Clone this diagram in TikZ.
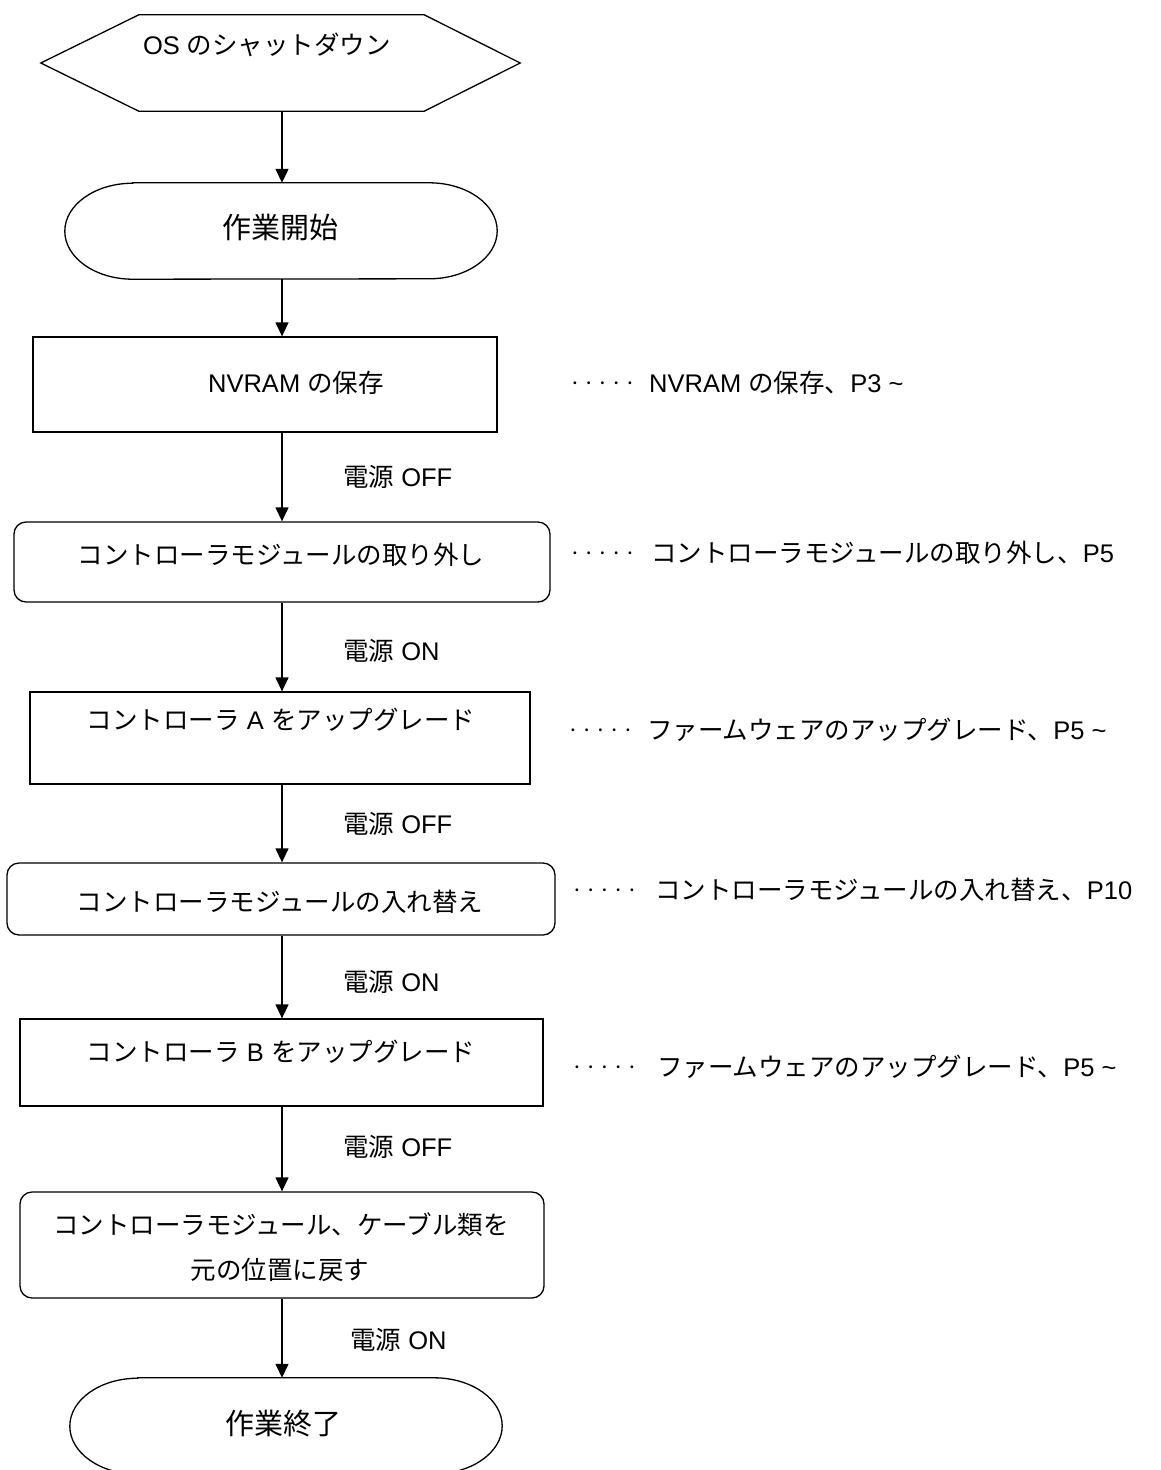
\documentclass[tikz,border=0pt]{standalone}
\usepackage{fontspec}
\setmainfont{Liberation Sans}
\newfontfamily\jp{Noto Sans CJK JP}
\usetikzlibrary{arrows.meta,calc}
\newcommand{\J}[1]{{\jp #1}}
\tikzset{
  lw/.style={line width=1.3pt},
  txt/.style={inner sep=0pt, font=\fontsize{25.5}{30}\selectfont, text height=22.4pt, text depth=3.1pt},
  bigtxt/.style={inner sep=0pt, font=\fontsize{29}{34}\selectfont, text height=25.5pt, text depth=3.5pt},
  dotstxt/.style={inner sep=0pt, anchor=west, font=\jp\fontsize{13.75}{16}\selectfont, text height=12.1pt, text depth=1.65pt},
  reftxt/.style={txt, anchor=west},
  lbl/.style={txt, anchor=west},
  rbox/.style={draw, line width=1.3pt, rounded corners=12pt, inner sep=0pt},
  sbox/.style={draw, line width=1.3pt, inner sep=0pt},
  ghost/.style={inner sep=0pt},
  arr/.style={line width=1.3pt, -{Triangle[length=14pt,width=13pt]}},
}
\begin{document}
\begin{tikzpicture}[x=1pt,y=1pt]
\useasboundingbox (0,0) rectangle (1160,-1470);
\coordinate (ax) at (282,0);
% hexagon
\node[ghost, minimum width=479pt, minimum height=96pt] (hex) at (280.5,-63) {};
\draw[lw] (hex.west) -- ($(hex.north west)+(98,0)$) -- ($(hex.north east)+(-96,0)$) -- (hex.east)
  -- ($(hex.south east)+(-96,0)$) -- ($(hex.south west)+(98,0)$) -- cycle;
\node[txt] (hext) at (267,-45) {OS \J{のシャットダウン}};
% start terminal
\node[ghost, minimum width=432pt, minimum height=96pt] (ts) at (281,-231) {};
\draw[lw] ($(ts.north west)+(68,0)$) -- ($(ts.north east)+(-68,0)$)
  arc[start angle=90,end angle=-90,x radius=68,y radius=48]
  -- ($(ts.south west)+(68,0)$)
  arc[start angle=270,end angle=90,x radius=68,y radius=48] -- cycle;
\node[bigtxt] (tst) at (280,-227) {\J{作業開始}};
% NVRAM
\node[sbox, minimum width=464pt, minimum height=95pt] (nv) at (265,-384.5) {};
\node[txt] (nvt) at (296,-383) {NVRAM \J{の保存}};
% box1
\node[rbox, minimum width=536pt, minimum height=80pt] (b1) at (282,-562) {};
\node[txt] (b1t) at (281,-555) {\J{コントローラモジュールの取り外し}};
% rect A
\node[sbox, minimum width=500pt, minimum height=92pt] (ra) at (280,-738) {};
\node[txt] (rat) at (281,-720) {\J{コントローラ} A \J{をアップグレード}};
% box2
\node[rbox, minimum width=548pt, minimum height=72pt] (b2) at (281,-899) {};
\node[txt] (b2t) at (280,-902) {\J{コントローラモジュールの入れ替え}};
% rect B
\node[sbox, minimum width=523pt, minimum height=87pt] (rb) at (281.5,-1062.5) {};
\node[txt] (rbt) at (281,-1052) {\J{コントローラ} B \J{をアップグレード}};
% box3
\node[rbox, minimum width=524pt, minimum height=106pt] (b3) at (282,-1245) {};
\node[txt] (b3a) at (281,-1225) {\J{コントローラモジュール、ケーブル類を}};
\node[txt] (b3b) at (280,-1270) {\J{元の位置に戻す}};
% end terminal
\node[ghost, minimum width=432pt, minimum height=96pt] (te) at (286,-1426) {};
\draw[lw] ($(te.north west)+(68,0)$) -- ($(te.north east)+(-68,0)$)
  arc[start angle=90,end angle=-90,x radius=68,y radius=48]
  -- ($(te.south west)+(68,0)$)
  arc[start angle=270,end angle=90,x radius=68,y radius=48] -- cycle;
\node[bigtxt] (tet) at (283,-1423) {\J{作業終了}};
% arrows
\draw[arr] (hex.south -| ax) -- (ts.north -| ax);
\draw[arr] (ts.south -| ax) -- (nv.north -| ax);
\draw[arr] (nv.south -| ax) -- (b1.north -| ax);
\draw[arr] (b1.south -| ax) -- (ra.north -| ax);
\draw[arr] (ra.south -| ax) -- (b2.north -| ax);
\draw[arr] (b2.south -| ax) -- (rb.north -| ax);
\draw[arr] (rb.south -| ax) -- (b3.north -| ax);
\draw[arr] (b3.south -| ax) -- (te.north -| ax);
% edge labels
\node[lbl] (l1) at (343,-477) {\J{電源} OFF};
\node[lbl] (l2) at (343,-651) {\J{電源} ON};
\node[lbl] (l3) at (343,-824) {\J{電源} OFF};
\node[lbl] (l4) at (343,-982) {\J{電源} ON};
\node[lbl] (l5) at (343,-1147) {\J{電源} OFF};
\node[lbl] (l6) at (350,-1340) {\J{電源} ON};
% references
\node[dotstxt] (d1) at (568,-383) {・・・・・};
\node[reftxt] (r1) at (649,-383) {NVRAM \J{の保存、}P3 \textasciitilde};
\node[dotstxt] (d2) at (568,-553) {・・・・・};
\node[reftxt] (r2) at (651,-553) {\J{コントローラモジュールの取り外し、}P5};
\node[dotstxt] (d3) at (566,-730) {・・・・・};
\node[reftxt] (r3) at (647,-730) {\J{ファームウェアのアップグレード、}P5 \textasciitilde};
\node[dotstxt] (d4) at (570,-890) {・・・・・};
\node[reftxt] (r4) at (655,-890) {\J{コントローラモジュールの入れ替え、}P10};
\node[dotstxt] (d5) at (570,-1067) {・・・・・};
\node[reftxt] (r5) at (657,-1067) {\J{ファームウェアのアップグレード、}P5 \textasciitilde};
\end{tikzpicture}
\end{document}
